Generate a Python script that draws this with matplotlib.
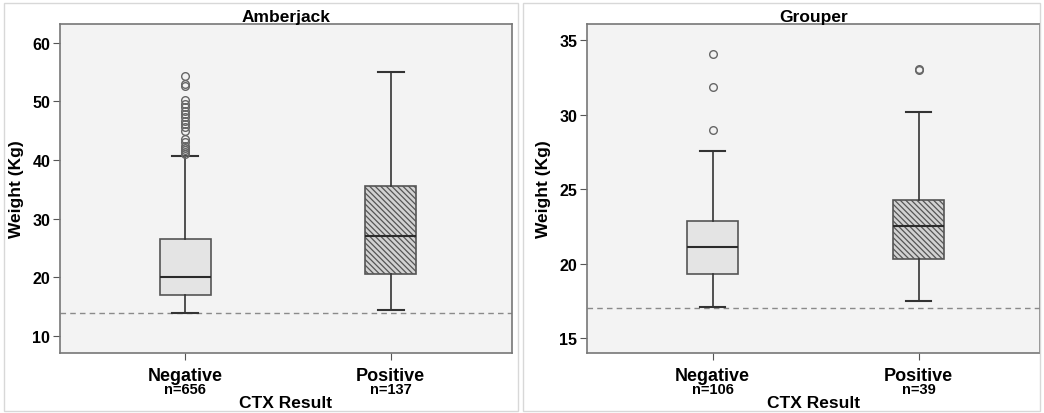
import matplotlib.pyplot as plt
from matplotlib.patches import Rectangle

plt.rcParams['font.family'] = ['Liberation Sans', 'DejaVu Sans']
plt.rcParams['font.weight'] = 'bold'
plt.rcParams['hatch.linewidth'] = 0.9
plt.rcParams['hatch.color'] = '#3c3c3c'

# categories and counts
categories = ["Negative", "Positive"]
amber_n = ["n=656", "n=137"]
grouper_n = ["n=106", "n=39"]

# Amberjack box stats: whislo, q1, median, q3, whishi
amber_neg = [13.9, 17.0, 20.1, 26.6, 40.7]
amber_pos = [14.4, 20.6, 27.1, 35.5, 55.0]
amber_neg_fliers = [54.3, 53.0, 52.6, 50.2, 49.5, 49.0, 48.4, 47.8, 47.3, 46.7,
                    46.1, 45.6, 45.0, 43.6, 43.1, 42.4, 42.0, 41.8, 41.4, 41.1]
amber_pos_fliers = []
amber_cut = 14.0

# Grouper box stats
grouper_neg = [17.1, 19.3, 21.1, 22.9, 27.6]
grouper_pos = [17.5, 20.3, 22.5, 24.3, 30.2]
grouper_neg_fliers = [34.1, 31.9, 29.0]
grouper_pos_fliers = [33.0, 33.05]
grouper_cut = 17.0


def stats(vals, fliers):
    lo, q1, med, q3, hi = vals
    return dict(whislo=lo, q1=q1, med=med, q3=q3, whishi=hi, fliers=fliers)


def panel(ax, title, neg, pos, negf, posf, cut, nlabels, ylim, yticks):
    ax.set_facecolor('#f3f3f3')
    ax.axhline(cut, color='#8a8a8a', linestyle=(0, (4, 3)), linewidth=1.0, zorder=1)
    bp = ax.bxp([stats(neg, negf), stats(pos, posf)], positions=[1, 2], widths=0.25,
                patch_artist=True,
                boxprops=dict(edgecolor='#555555', linewidth=1.2),
                medianprops=dict(color='#2b2b2b', linewidth=1.5),
                whiskerprops=dict(color='#333333', linewidth=1.2),
                capprops=dict(color='#333333', linewidth=1.5),
                flierprops=dict(marker='o', markerfacecolor='none',
                                markeredgecolor='#666666', markersize=5.5,
                                markeredgewidth=1.0))
    bp['boxes'][0].set_facecolor('#e4e4e4')
    bp['boxes'][1].set_facecolor('#d2d2d2')
    bp['boxes'][1].set_hatch('\\\\\\\\\\\\')
    ax.set_xlim(0.39, 2.59)
    ax.set_ylim(*ylim)
    ax.set_yticks(yticks)
    ax.set_xticks([1, 2])
    ax.set_xticklabels(categories, fontsize=13, fontweight='bold')
    ax.tick_params(axis='both', direction='out', length=5, color='#555555', pad=2)
    ax.tick_params(axis='y', labelsize=11.5)
    ax.tick_params(axis='x', pad=5)
    for lab in ax.get_yticklabels():
        lab.set_fontweight('bold')
    for sp in ax.spines.values():
        sp.set_color('#777777')
        sp.set_linewidth(1.2)
    for x, t in zip([1, 2], nlabels):
        ax.text(x, -0.088, t, transform=ax.get_xaxis_transform(), ha='center',
                va='top', fontsize=10.5, fontweight='bold')
    ax.text(0.5, -0.127, "CTX Result", transform=ax.transAxes, ha='center',
            va='top', fontsize=12.5, fontweight='bold')
    ax.set_ylabel("Weight (Kg)", fontsize=12.5, fontweight='bold', labelpad=6)
    ax.set_title(title, fontsize=12.5, fontweight='bold', pad=2)


fig = plt.figure(figsize=(10.44, 4.14), dpi=100)
fig.patches.append(Rectangle((0.004, 0.006), 0.492, 0.985, transform=fig.transFigure,
                             fill=False, edgecolor='#d8d8d8', linewidth=1.0))
fig.patches.append(Rectangle((0.501, 0.006), 0.495, 0.985, transform=fig.transFigure,
                             fill=False, edgecolor='#d8d8d8', linewidth=1.0))

ax1 = fig.add_axes([60 / 1044, 60 / 414, 452 / 1044, 329 / 414])
ax2 = fig.add_axes([587 / 1044, 60 / 414, 453 / 1044, 329 / 414])

panel(ax1, "Amberjack", amber_neg, amber_pos, amber_neg_fliers, amber_pos_fliers,
      amber_cut, amber_n, (7.1, 63.2), [10, 20, 30, 40, 50, 60])
panel(ax2, "Grouper", grouper_neg, grouper_pos, grouper_neg_fliers, grouper_pos_fliers,
      grouper_cut, grouper_n, (14.0, 36.1), [15, 20, 25, 30, 35])

fig.savefig("out.png", dpi=100)
